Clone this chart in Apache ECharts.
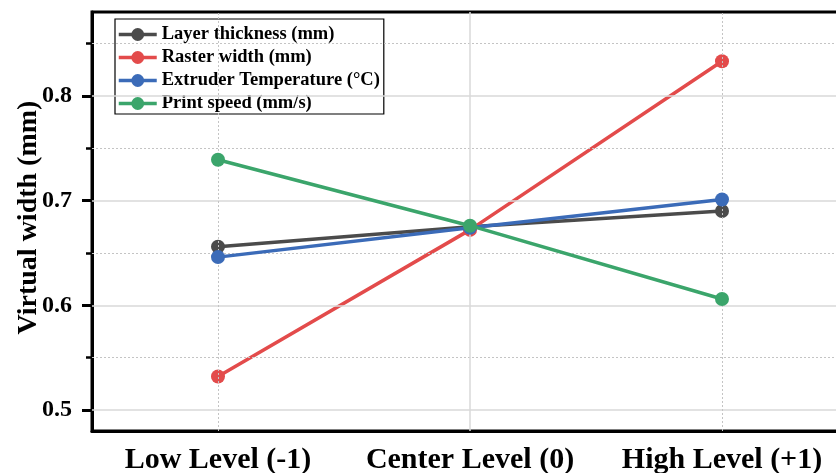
<!DOCTYPE html>
<html>
<head>
<meta charset="utf-8">
<script src="https://cdn.jsdelivr.net/npm/echarts@6/dist/echarts.min.js"></script>
<style>
  html, body { margin: 0; padding: 0; background: #fff; }
  #chart { width: 836px; height: 473px; }
</style>
</head>
<body>
<div id="chart"></div>
<script>
// Factor levels on the x axis
const categories = ['Low Level (-1)', 'Center Level (0)', 'High Level (+1)'];

// Virtual width (mm) for each process parameter at each level
const layerThickness = [0.656, 0.675, 0.690];
const rasterWidth = [0.532, 0.672, 0.833];
const extruderTemperature = [0.646, 0.674, 0.701];
const printSpeed = [0.739, 0.676, 0.606];

const seriesNames = [
  'Layer thickness (mm)',
  'Raster width (mm)',
  'Extruder Temperature (°C)',
  'Print speed (mm/s)'
];
const seriesColors = ['#4b4b4b', '#e34b4b', '#3b6bb8', '#3ba56b'];

// Y axis range and tick values
const yMin = 0.48;
const yMax = 0.88;
const yMajorTicks = [0.5, 0.6, 0.7, 0.8];
const yMinorTicks = [0.55, 0.65, 0.75, 0.85];

const FONT = 'Liberation Serif';

const chart = echarts.init(document.getElementById('chart'));

// Grid lines: solid at major y values and at the centre level,
// dotted at minor y values and at the low/high levels.
const gridLines = []
  .concat(yMajorTicks.map(v => ({ yAxis: v, lineStyle: { color: '#d9d9d9', width: 1.5, type: 'solid' } })))
  .concat(yMinorTicks.map(v => ({ yAxis: v, lineStyle: { color: '#c4c4c4', width: 1, type: [2, 2] } })))
  .concat([
    { xAxis: categories[0], lineStyle: { color: '#c4c4c4', width: 1, type: [2, 2] } },
    { xAxis: categories[1], lineStyle: { color: '#d9d9d9', width: 1.5, type: 'solid' } },
    { xAxis: categories[2], lineStyle: { color: '#c4c4c4', width: 1, type: [2, 2] } }
  ]);

const dataSets = [layerThickness, rasterWidth, extruderTemperature, printSpeed];

const lineSeries = dataSets.map((d, i) => ({
  name: seriesNames[i],
  type: 'line',
  data: d,
  symbol: 'circle',
  symbolSize: 14,
  color: seriesColors[i],
  lineStyle: { width: 3.5, color: seriesColors[i] },
  itemStyle: { color: seriesColors[i] },
  z: 3 + i
}));

chart.setOption({
  animation: false,
  backgroundColor: '#fff',
  grid: {
    left: 92,
    right: -12,
    top: 12,
    bottom: 42,
    outerBoundsMode: 'none',
    containLabel: false,
    show: true,
    borderColor: '#000',
    borderWidth: 3,
    backgroundColor: 'transparent'
  },
  legend: {
    data: seriesNames,
    orient: 'vertical',
    left: 115,
    top: 19,
    itemWidth: 38,
    itemHeight: 16,
    itemGap: 4,
    padding: [6, 4, 1, 2],
    borderColor: '#000',
    borderWidth: 1.2,
    backgroundColor: '#fff',
    lineStyle: { width: 3.5 },
    textStyle: { fontFamily: FONT, fontWeight: 'bold', fontSize: 18.5, color: '#000' }
  },
  xAxis: {
    type: 'category',
    data: categories,
    boundaryGap: true,
    axisLine: { lineStyle: { color: '#000', width: 3 } },
    axisTick: { alignWithLabel: true, length: 6, lineStyle: { color: '#000', width: 3 } },
    axisLabel: {
      interval: 0,
      hideOverlap: false,
      fontFamily: FONT, fontWeight: 'bold', fontSize: 30, color: '#000', margin: 14
    },
    splitLine: { show: false }
  },
  yAxis: [
    {
      type: 'value',
      min: yMin,
      max: yMax,
      name: 'Virtual width (mm)',
      nameLocation: 'middle',
      nameGap: 49,
      nameMoveOverlap: false,
      nameTextStyle: {
        fontFamily: FONT, fontWeight: 'bold', fontSize: 28, color: '#000',
        padding: [0, 0, 0, 8]
      },
      axisLine: { show: true, lineStyle: { color: '#000', width: 3 } },
      axisTick: { show: true, customValues: yMajorTicks, length: 10, lineStyle: { color: '#000', width: 3 } },
      axisLabel: {
        customValues: yMajorTicks,
        formatter: v => v.toFixed(1),
        fontFamily: FONT, fontWeight: 'bold', fontSize: 24, color: '#000', margin: 20
      },
      splitLine: { show: false }
    },
    {
      type: 'value',
      position: 'left',
      min: yMin,
      max: yMax,
      axisLine: { show: false },
      axisTick: { show: true, customValues: yMinorTicks, length: 6, lineStyle: { color: '#000', width: 2.5 } },
      axisLabel: { show: false },
      splitLine: { show: false }
    }
  ],
  series: [
    {
      name: 'gridlines',
      type: 'line',
      data: [null, null, null],
      silent: true,
      z: 1,
      markLine: {
        silent: true,
        symbol: 'none',
        label: { show: false },
        animation: false,
        data: gridLines
      }
    }
  ].concat(lineSeries)
});
</script>
</body>
</html>
